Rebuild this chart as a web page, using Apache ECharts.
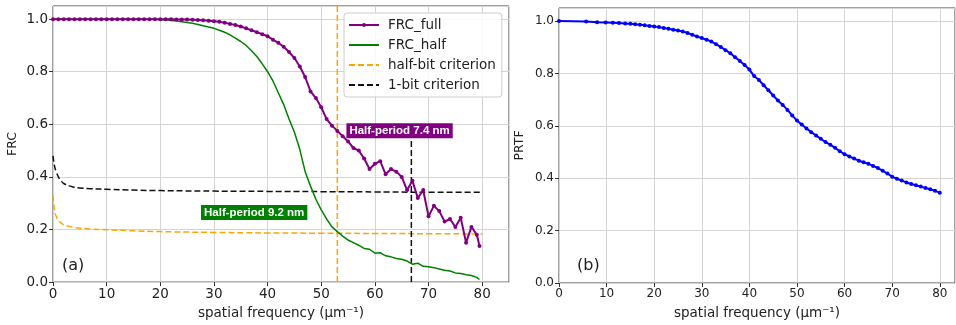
<!DOCTYPE html>
<html>
<head>
<meta charset="utf-8">
<script src="https://cdn.jsdelivr.net/npm/echarts@6/dist/echarts.min.js"></script>
<style>
  html, body { margin: 0; padding: 0; background: #fff; }
  #chart { width: 956px; height: 325px; }
</style>
</head>
<body>
<div id="chart"></div>
<script>
// frequency grid for the FRC curves (μm^-1)
const frcFreq = [0, 1, 2, 3, 4, 5, 6, 7, 8, 9, 10, 11, 12, 13, 14, 15, 16, 17, 18, 19,
  20, 21, 22, 23, 24, 25, 26, 27, 28, 29, 30, 31, 32, 33, 34, 35, 36, 37, 38, 39,
  40, 41, 42, 43, 44, 45, 46, 47, 48, 49, 50, 51, 52, 53, 54, 55, 56, 57, 58, 59,
  60, 61, 62, 63, 64, 65, 66, 67, 68, 69, 70, 71, 72, 73, 74, 75, 76, 77, 78, 79, 79.5]

const frcFull = [1, 1, 1, 1, 1, 1, 1, 1, 1, 1, 1, 1, 1, 1, 1, 1, 1, 1, 1, 1,
  1, 1, 1, 0.999, 0.999, 0.999, 0.998, 0.997, 0.996, 0.994, 0.992, 0.99, 0.986, 0.982, 0.978, 0.972, 0.965, 0.958, 0.95, 0.943,
  0.935, 0.922, 0.91, 0.895, 0.875, 0.852, 0.82, 0.78, 0.725, 0.7, 0.665, 0.62, 0.595, 0.575, 0.555, 0.535, 0.51, 0.5, 0.47, 0.43,
  0.45, 0.46, 0.41, 0.43, 0.42, 0.4, 0.35, 0.385, 0.32, 0.35, 0.25, 0.29, 0.27, 0.23, 0.24, 0.21, 0.245, 0.15, 0.21, 0.18, 0.137]

const frcHalf = [1, 1, 1, 1, 1, 1, 1, 1, 1, 1, 1, 1, 1, 1, 1, 1, 1, 1, 1, 1,
  0.998, 0.997, 0.995, 0.993, 0.99, 0.987, 0.984, 0.98, 0.975, 0.97, 0.965, 0.958, 0.95, 0.94, 0.928, 0.915, 0.9, 0.88, 0.858, 0.83,
  0.8, 0.765, 0.72, 0.675, 0.62, 0.57, 0.505, 0.42, 0.365, 0.315, 0.275, 0.24, 0.21, 0.192, 0.175, 0.16, 0.15, 0.14, 0.128, 0.125,
  0.11, 0.112, 0.1, 0.096, 0.09, 0.087, 0.08, 0.068, 0.072, 0.06, 0.058, 0.055, 0.05, 0.045, 0.042, 0.035, 0.033, 0.028, 0.025, 0.018, 0.01]

// threshold curves
const critFreq = [0, 0.3, 0.6, 1, 1.5, 2, 3, 4, 5, 7, 10, 15, 20, 30, 40, 50, 60, 70, 80]
const halfBit = [0.33, 0.27, 0.25, 0.235, 0.225, 0.218, 0.212, 0.208, 0.205, 0.202, 0.199, 0.195, 0.192, 0.189, 0.187, 0.186, 0.185, 0.184, 0.183]
const oneBit = [0.48, 0.44, 0.42, 0.4, 0.385, 0.375, 0.366, 0.361, 0.358, 0.355, 0.353, 0.35, 0.348, 0.346, 0.345, 0.344, 0.343, 0.342, 0.342]

// resolution cut-offs
const halfBitCut = 53
const oneBitCut = 66.8
const oneBitCutTop = 0.54

const prtfFreq = [0, 5.7, 8, 9.8, 11.3, 12.6, 13.9, 15, 16, 17, 18, 19, 20,
  21, 22, 23, 24, 25, 26, 27, 28, 29, 30, 31, 32, 33, 34, 35, 36, 37, 38, 39, 40,
  41, 42, 43, 44, 45, 46, 47, 48, 49, 50, 51, 52, 53, 54, 55, 56, 57, 58, 59, 60,
  61, 62, 63, 64, 65, 66, 67, 68, 69, 70, 71, 72, 73, 74, 75, 76, 77, 78, 79, 80]
const prtf = [1, 0.998, 0.996, 0.995, 0.994, 0.993, 0.991, 0.99, 0.988, 0.986, 0.984, 0.981, 0.979,
  0.977, 0.974, 0.971, 0.967, 0.964, 0.96, 0.955, 0.948, 0.941, 0.935, 0.929, 0.922, 0.912, 0.901, 0.889, 0.877, 0.862, 0.848, 0.832, 0.815,
  0.79, 0.775, 0.755, 0.736, 0.716, 0.697, 0.68, 0.661, 0.64, 0.62, 0.605, 0.59, 0.576, 0.563, 0.551, 0.538, 0.528, 0.516, 0.503, 0.492,
  0.483, 0.475, 0.467, 0.461, 0.455, 0.447, 0.439, 0.429, 0.418, 0.406, 0.398, 0.391, 0.384, 0.378, 0.373, 0.368, 0.363, 0.358, 0.352, 0.345]

const yTicks = [0, 0.2, 0.4, 0.6, 0.8, 1.0]

const zip = (xs, ys) => xs.map((x, i) => [x, ys[i]])

const font = 'DejaVu Sans'
const xName = 'spatial frequency (μm⁻¹)'

const makeX = (gridIndex, max, size) => ({
  type: 'value',
  gridIndex: gridIndex,
  min: 0,
  max: max,
  interval: 10,
  name: xName,
  nameLocation: 'middle',
  nameGap: 23,
  nameTextStyle: { fontFamily: font, fontSize: 13.5, color: '#222' },
  axisLine: { show: false },
  axisTick: { show: true, length: 4, lineStyle: { color: '#333' } },
  axisLabel: { fontFamily: font, fontSize: size, color: '#222', margin: 5, showMaxLabel: false },
  splitLine: { show: true, lineStyle: { color: '#d4d4d4', width: 1 } }
})

const makeY = (gridIndex, name, size, gap) => ({
  type: 'value',
  gridIndex: gridIndex,
  min: 0,
  max: 1.05,
  interval: 0.2,
  name: name,
  nameLocation: 'middle',
  nameGap: gap,
  nameTextStyle: { fontFamily: font, fontSize: 12.5, color: '#222' },
  axisLine: { show: false },
  axisTick: { show: true, length: 4, lineStyle: { color: '#333' } },
  axisLabel: {
    fontFamily: font, fontSize: size, color: '#222', margin: 5, showMaxLabel: false,
    formatter: (v) => (yTicks.some((t) => Math.abs(t - v) < 1e-6) ? v.toFixed(1) : '')
  },
  splitLine: { show: true, lineStyle: { color: '#d4d4d4', width: 1 } }
})

const dashed = [6, 3]

const annoLabel = (text, bg) => ({
  show: true,
  formatter: text,
  color: '#fff',
  backgroundColor: bg,
  padding: [2, 3, 1, 3],
  fontFamily: 'Liberation Sans',
  fontWeight: 'bold',
  fontSize: 11.5
})

const chart = echarts.init(document.getElementById('chart'), null, { renderer: 'canvas' })

chart.setOption({
  animation: false,
  backgroundColor: '#fff',
  grid: [
    { left: 53, top: 6, width: 456, height: 277, show: true, borderColor: '#444', borderWidth: 1 },
    { left: 559, top: 8, width: 396, height: 275, show: true, borderColor: '#444', borderWidth: 1 }
  ],
  xAxis: [makeX(0, 85, 13.5), makeX(1, 83.2, 12)],
  yAxis: [makeY(0, 'FRC', 13.5, 34), makeY(1, 'PRTF', 12, 33)],
  title: [
    { text: '(a)', left: 57, top: 253, textStyle: { fontFamily: font, fontSize: 16, fontWeight: 'normal', color: '#222' } },
    { text: '(b)', left: 572, top: 253, textStyle: { fontFamily: font, fontSize: 16, fontWeight: 'normal', color: '#222' } }
  ],
  legend: {
    orient: 'vertical',
    left: 344,
    top: 13,
    itemWidth: 30,
    itemHeight: 5,
    itemGap: 6,
    padding: [5, 6, 5, 4],
    backgroundColor: 'rgba(255,255,255,0.85)',
    borderColor: '#ccc',
    borderWidth: 1,
    borderRadius: 3,
    textStyle: { fontFamily: font, fontSize: 13.5, color: '#222', padding: [0, 0, 0, 4] },
    data: [
      { name: 'FRC_full' },
      { name: 'FRC_half', itemStyle: { opacity: 0 } },
      { name: 'half-bit criterion', itemStyle: { opacity: 0 } },
      { name: '1-bit criterion', itemStyle: { opacity: 0 } }
    ]
  },
  series: [
    {
      name: 'half-bit criterion',
      type: 'line',
      xAxisIndex: 0,
      yAxisIndex: 0,
      symbol: 'none',
      smooth: true,
      data: zip(critFreq, halfBit),
      lineStyle: { color: 'orange', width: 1.5, type: dashed },
      itemStyle: { color: 'orange' }
    },
    {
      name: '1-bit criterion',
      type: 'line',
      xAxisIndex: 0,
      yAxisIndex: 0,
      symbol: 'none',
      smooth: true,
      data: zip(critFreq, oneBit),
      lineStyle: { color: '#111', width: 1.5, type: dashed },
      itemStyle: { color: '#111' }
    },
    {
      name: 'halfBitCut',
      type: 'line',
      xAxisIndex: 0,
      yAxisIndex: 0,
      symbol: 'none',
      data: [[halfBitCut, 0], [halfBitCut, 1.05]],
      lineStyle: { color: 'orange', width: 1.5, type: dashed }
    },
    {
      name: 'oneBitCut',
      type: 'line',
      xAxisIndex: 0,
      yAxisIndex: 0,
      symbol: 'none',
      data: [[oneBitCut, 0], [oneBitCut, oneBitCutTop]],
      lineStyle: { color: '#111', width: 1.5, type: dashed }
    },
    {
      name: 'FRC_half',
      type: 'line',
      xAxisIndex: 0,
      yAxisIndex: 0,
      symbol: 'none',
      data: zip(frcFreq, frcHalf),
      lineStyle: { color: 'green', width: 1.5 },
      itemStyle: { color: 'green' },
      markPoint: {
        symbol: 'rect',
        symbolSize: 1,
        itemStyle: { color: 'rgba(0,0,0,0)' },
        label: annoLabel('Half-period 9.2 nm', 'green'),
        data: [{ coord: [37.5, 0.265] }]
      }
    },
    {
      name: 'FRC_full',
      type: 'line',
      xAxisIndex: 0,
      yAxisIndex: 0,
      symbol: 'circle',
      symbolSize: 4,
      data: zip(frcFreq, frcFull),
      lineStyle: { color: 'purple', width: 2 },
      itemStyle: { color: 'purple' },
      markPoint: {
        symbol: 'rect',
        symbolSize: 1,
        itemStyle: { color: 'rgba(0,0,0,0)' },
        label: annoLabel('Half-period 7.4 nm', 'purple'),
        data: [{ coord: [64.6, 0.576] }]
      }
    },
    {
      name: 'PRTF',
      type: 'line',
      xAxisIndex: 1,
      yAxisIndex: 1,
      symbol: 'circle',
      symbolSize: 4,
      data: zip(prtfFreq, prtf),
      lineStyle: { color: 'blue', width: 2 },
      itemStyle: { color: 'blue' }
    }
  ]
})
</script>
</body>
</html>
